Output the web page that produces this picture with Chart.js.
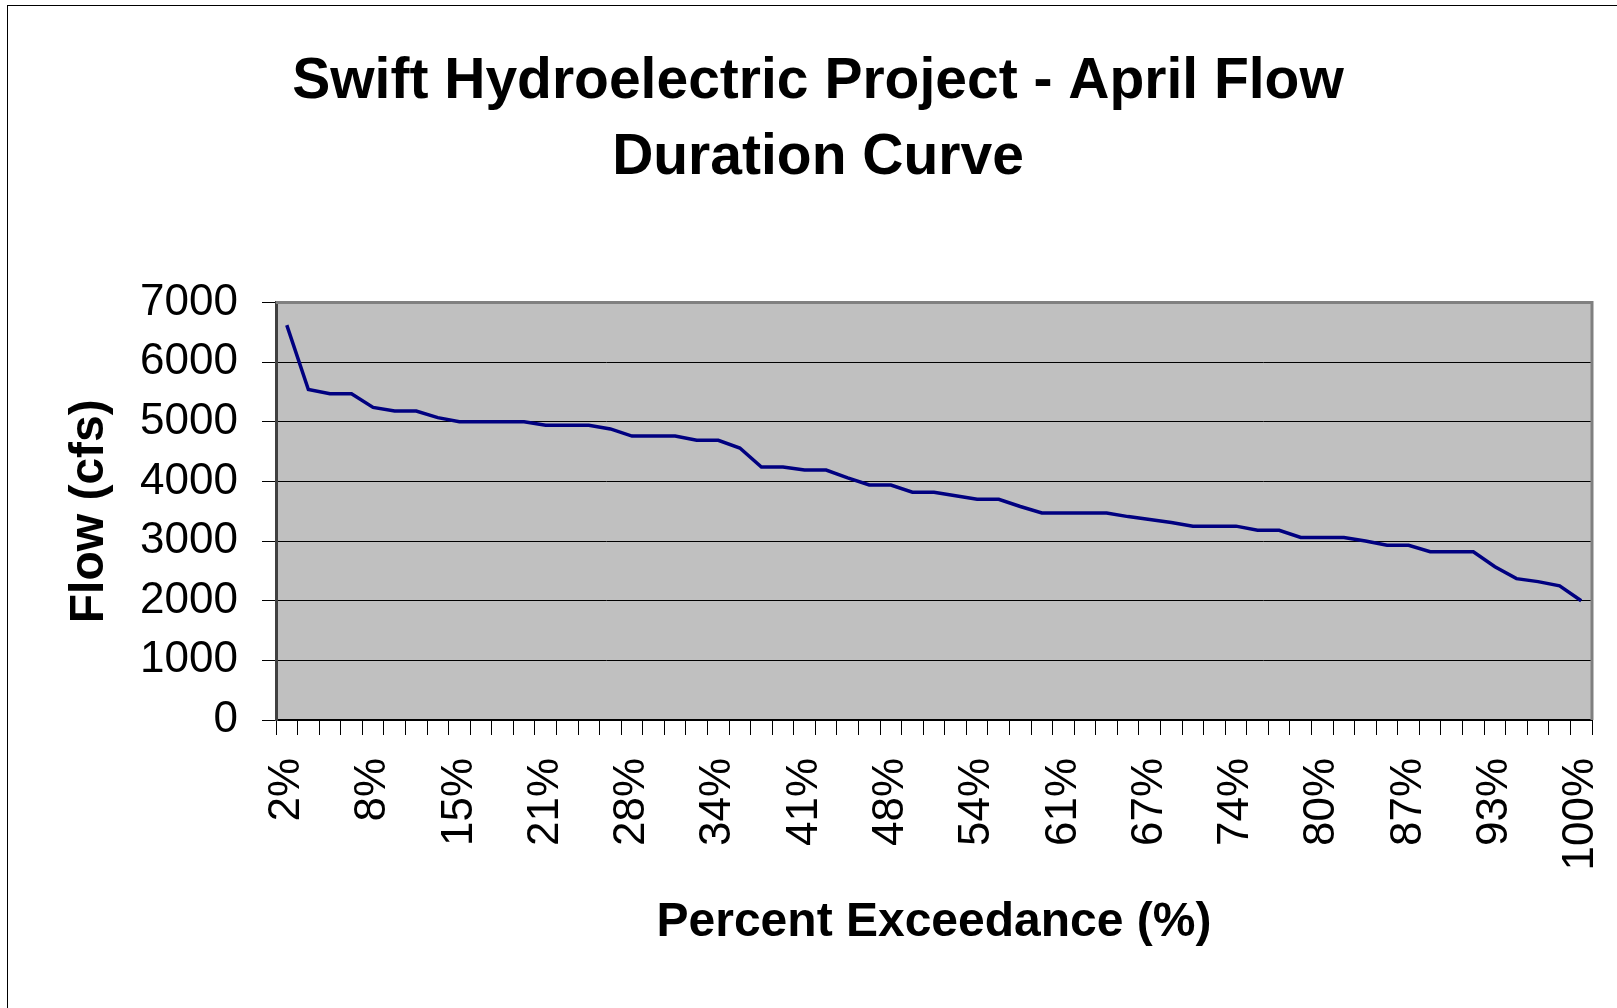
<!DOCTYPE html>
<html>
<head>
<meta charset="utf-8">
<title>Swift Hydroelectric Project - April Flow Duration Curve</title>
<script src="https://cdn.jsdelivr.net/npm/chart.js@4.4.1/dist/chart.umd.min.js"></script>
<style>
  html, body { margin: 0; padding: 0; background: #fff; overflow: hidden; }
  #frame { position: absolute; left: 7px; top: 5px; width: 1700px; height: 1100px; border: 1px solid #000; }
  #wrap { position: absolute; left: 0; top: 0; width: 1617px; height: 1008px; }
</style>
</head>
<body>
<div id="frame"></div>
<div id="wrap"><canvas id="myChart"></canvas></div>
<script>
// percent exceedance categories (61 ranked April flows)
const percentLabels = [
  '2%', '3%', '5%', '7%', '8%', '10%', '11%', '13%', '15%', '16%',
  '18%', '20%', '21%', '23%', '25%', '26%', '28%', '30%', '31%', '33%',
  '34%', '36%', '38%', '39%', '41%', '43%', '44%', '46%', '48%', '49%',
  '51%', '52%', '54%', '56%', '57%', '59%', '61%', '62%', '64%', '66%',
  '67%', '69%', '70%', '72%', '74%', '75%', '77%', '79%', '80%', '82%',
  '84%', '85%', '87%', '89%', '90%', '92%', '93%', '95%', '97%', '98%',
  '100%'
];

// flow in cfs
const flowCfs = [
  6620, 5540, 5470, 5470, 5240, 5180, 5180, 5070, 5000, 5000,
  5000, 5000, 4940, 4940, 4940, 4880, 4760, 4760, 4760, 4690,
  4690, 4560, 4240, 4240, 4190, 4190, 4060, 3940, 3940, 3820,
  3820, 3760, 3700, 3700, 3580, 3470, 3470, 3470, 3470, 3410,
  3360, 3310, 3250, 3250, 3250, 3180, 3180, 3060, 3060, 3060,
  3000, 2930, 2930, 2820, 2820, 2820, 2570, 2370, 2320, 2250,
  2000
];

const titleLines = ['Swift Hydroelectric Project - April Flow', 'Duration Curve'];
const yTitle = 'Flow (cfs)';
const xTitle = 'Percent Exceedance (%)';

const FONT = '"Liberation Sans", Arial, sans-serif';

// grey plot area + grey frame on top/right like the old excel chart
const plotArea = {
  id: 'plotArea',
  beforeDraw(chart) {
    const a = chart.chartArea;
    const ctx = chart.ctx;
    ctx.save();
    ctx.fillStyle = '#c0c0c0';
    ctx.fillRect(a.left, a.top, a.right - a.left, a.bottom - a.top);
    ctx.restore();
  },
  afterDraw(chart) {
    const a = chart.chartArea;
    const ctx = chart.ctx;
    ctx.save();
    ctx.strokeStyle = '#808080';
    ctx.lineWidth = 3;
    ctx.beginPath();
    ctx.moveTo(a.left, a.top);
    ctx.lineTo(a.right, a.top);
    ctx.lineTo(a.right, a.bottom);
    ctx.stroke();
    ctx.restore();
  }
};

const ctx = document.getElementById('myChart').getContext('2d');
const myChart = new Chart(ctx, {
  type: 'line',
  data: {
    labels: percentLabels,
    datasets: [{
      label: 'April Flow',
      data: flowCfs,
      borderColor: '#000080',
      backgroundColor: '#000080',
      borderWidth: 3.5,
      pointRadius: 0,
      tension: 0,
      fill: false
    }]
  },
  options: {
    responsive: true,
    maintainAspectRatio: false,
    animation: false,
    layout: { padding: { top: 0, right: 25, bottom: 0, left: 44 } },
    plugins: {
      legend: { display: false },
      tooltip: { enabled: false },
      title: {
        display: true,
        text: titleLines,
        color: '#000',
        font: { family: FONT, size: 57, weight: 'bold', lineHeight: 1.32 },
        padding: { top: 45, bottom: 107 }
      }
    },
    scales: {
      x: {
        offset: true,
        afterFit: function(scale) {
          scale.height = 288;
          // keep the plot out to the right edge like the original
          scale.paddingLeft = 0;
          scale.paddingRight = 0;
        },
        grid: {
          display: true,
          offset: true,
          drawOnChartArea: false,
          drawTicks: true,
          tickLength: 15,
          color: '#000',
          lineWidth: 1
        },
        border: { display: true, color: '#000', width: 2 },
        ticks: {
          autoSkip: false,
          maxRotation: 90,
          minRotation: 90,
          padding: 23,
          color: '#000',
          font: { family: FONT, size: 44 },
          callback: function(value, index) {
            return index % 4 === 0 ? this.getLabelForValue(value) : '';
          }
        },
        title: {
          display: true,
          text: xTitle,
          color: '#000',
          font: { family: FONT, size: 48, weight: 'bold' },
          padding: { top: 0, bottom: 56 }
        }
      },
      y: {
        min: 0,
        max: 7000,
        afterFit: function(scale) { scale.width = 232; },
        grid: {
          color: '#000',
          lineWidth: 1,
          drawTicks: true,
          tickLength: 14
        },
        border: { display: true, color: '#404040', width: 3 },
        ticks: {
          stepSize: 1000,
          padding: 24,
          color: '#000',
          font: { family: FONT, size: 44 },
          callback: function(value) { return String(value); }
        },
        title: {
          display: true,
          text: yTitle,
          color: '#000',
          font: { family: FONT, size: 48, weight: 'bold' },
          padding: { top: 17, bottom: 0 }
        }
      }
    }
  },
  plugins: [plotArea]
});
</script>
</body>
</html>
